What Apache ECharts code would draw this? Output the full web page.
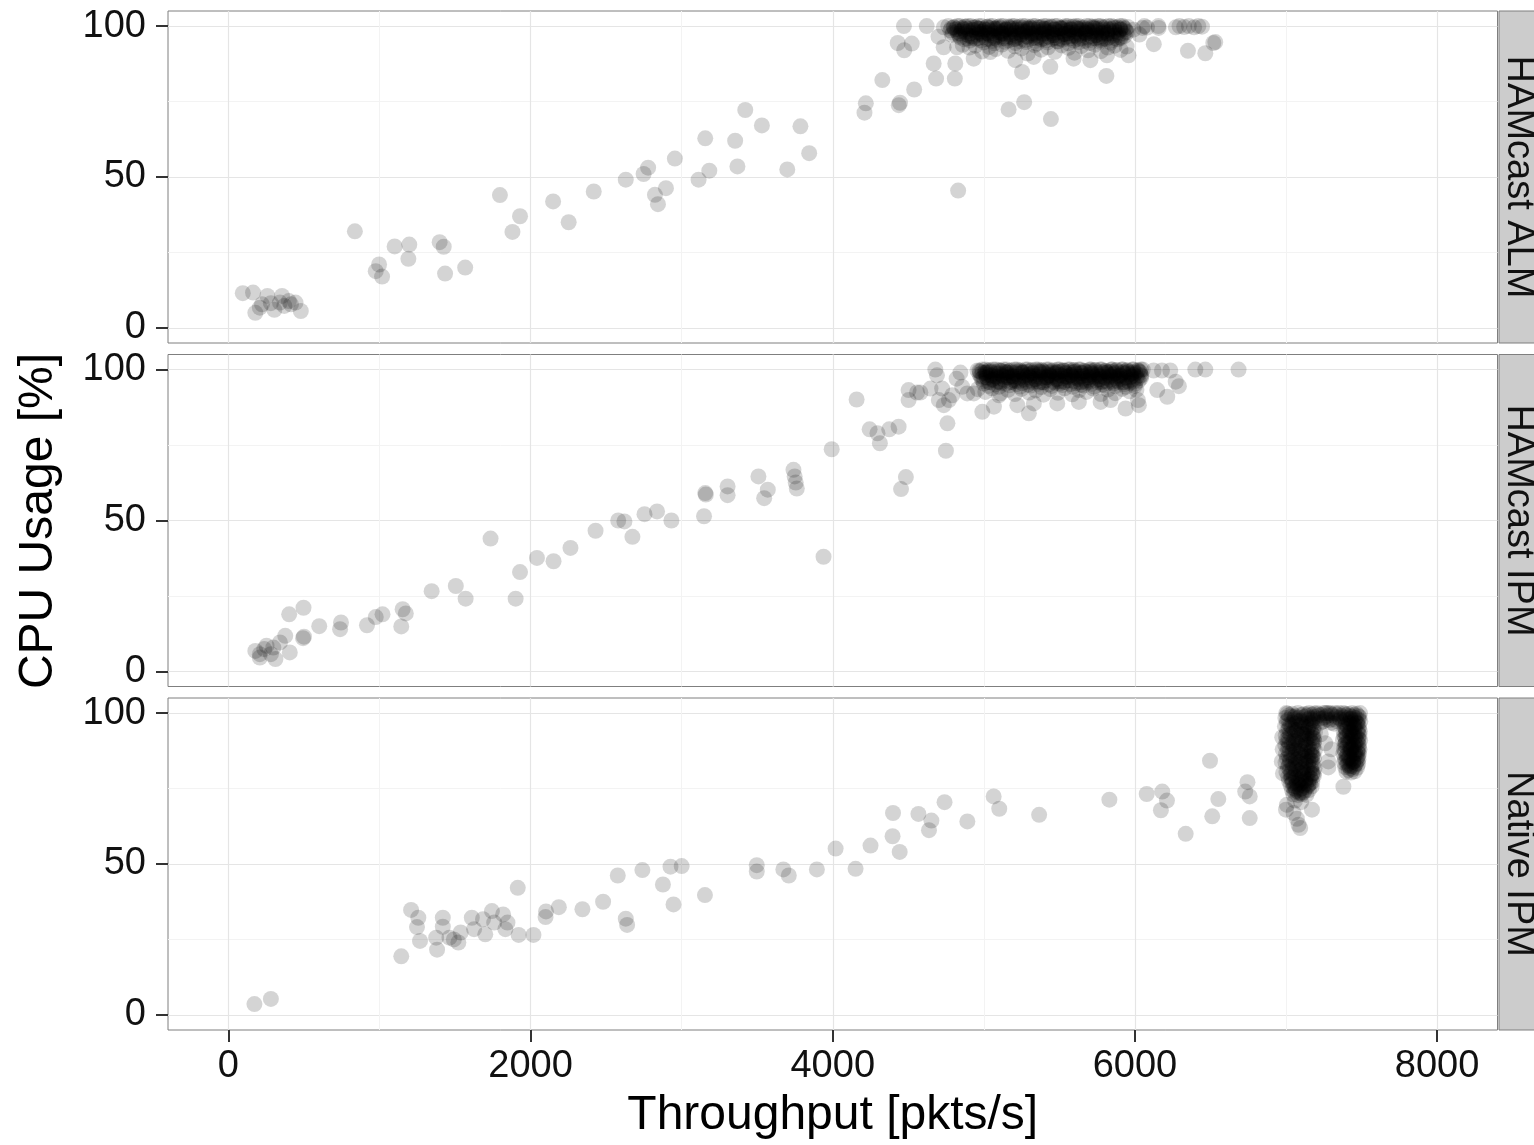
<!DOCTYPE html>
<html><head><meta charset="utf-8">
<script src="https://cdn.jsdelivr.net/npm/echarts@6/dist/echarts.min.js"></script>
<style>html,body{margin:0;padding:0;background:#fff}#c{width:1534px;height:1145px}</style>
</head><body><div id="c"></div>
<script>
const facets = ['HAMcast ALM', 'HAMcast IPM', 'Native IPM'];
const xTicks = [0, 2000, 4000, 6000, 8000];
const xMinor = [1000, 3000, 5000, 7000];
const yTicks = [0, 50, 100];
const yMinor = [25, 75];
const xTitle = 'Throughput [pkts/s]';
const yTitle = 'CPU Usage [%]';

const almSparse = [
[95,11.5],[163,11.7],[178,5.0],[208,6.7],[222,7.8],[258,10.6],[281,8.2],[304,6.0],[341,8.4],[355,10.6],[370,7.3],[400,8.9],[414,7.8],[444,8.4],[479,5.6],
[837,32.0],[975,18.8],[997,21.0],[1017,17.0],[1100,27.0],[1191,22.9],[1197,27.6],[1398,28.4],[1425,26.9],[1434,18.0],[1567,20.0],[1797,44.0],[1880,31.8],[1930,37.0],[2149,41.9],[2252,35.0],[2418,45.2],[2630,49.1],[2748,51.0],[2778,53.1],[2823,44.1],[2843,41.0],[2896,46.3],[2955,56.1],[3112,49.1],[3156,62.8],[3183,52.1],[3354,62.0],[3369,53.5],[3421,72.2],[3531,67.1],[3699,52.5],[3786,66.8],[3844,57.9],
[4210,71.3],[4219,74.4],[4328,82.1],[4437,73.8],[4445,74.6],[4539,79.0],[4430,94.4],[4473,92.0],[4523,94.2],[4471,100],[4622,100],[4668,87.6],[4684,82.6],[4808,82.6],[4811,87.6],[4734,93.0],[4823,93.0],[4830,45.5],[4700,96.5],[4735,99.6],
[5164,72.4],[5267,74.8],[5444,69.2],
[4933,89.2],[5043,91.4],[5209,88.7],[5253,84.8],[5330,89.8],[5440,86.5],[5594,89.2],[5705,88.7],[5811,83.5],[5815,90.3],[5958,90.3],
[5990,98.8],[6030,97.2],[6050,99.4],[6062,100],[6080,99.5],[6125,94.0],[6155,100],[6157,99.4],[6271,99.6],[6295,100],[6326,99.7],[6357,100],[6392,99.6],[6420,100],[6444,99.8],[6351,91.8],[6466,91.0],[6519,94.4],[6532,94.7]
];
const almDense = [
[4765,100],[4802,99.6],[4841,100],[4873,99.8],[4915,100],[4948,99.5],[4986,100],[5021,99.7],[5058,100],[5097,99.8],[5128,100],[5166,99.6],[5203,100],[5237,99.9],[5275,100],[5309,99.5],[5342,100],[5381,99.7],[5415,100],[5448,99.8],[5487,100],[5522,99.6],[5556,100],[5594,99.9],[5628,100],[5661,99.5],[5699,100],[5737,99.7],[5772,100],[5806,99.8],[5845,100],[5882,99.6],[5918,100],[5952,99.7],
[4778,98.6],[4826,98.2],[4861,98.9],[4897,98.4],[4934,98.7],[4972,98.1],[5008,98.8],[5043,98.3],[5079,98.6],[5114,98.0],[5152,98.9],[5188,98.4],[5221,98.7],[5259,98.2],[5293,98.5],[5330,98.9],[5366,98.1],[5401,98.6],[5436,98.3],[5472,98.8],[5508,98.2],[5543,98.6],[5579,98.9],[5614,98.1],[5650,98.5],[5686,98.8],[5721,98.3],[5757,98.6],[5793,98.0],[5829,98.7],[5866,98.4],[5903,98.8],[5941,98.3],
[4790,97.1],[4838,96.8],[4882,97.3],[4917,96.6],[4955,97.2],[4993,96.9],[5031,97.4],[5066,96.7],[5104,97.0],[5139,96.5],[5176,97.3],[5212,96.8],[5248,97.1],[5284,96.6],[5319,97.4],[5355,96.9],[5391,97.2],[5426,96.5],[5462,97.0],[5497,96.8],[5533,97.3],[5569,96.6],[5604,97.1],[5640,96.9],[5676,97.4],[5711,96.7],[5747,97.0],[5784,96.6],[5819,97.2],[5857,96.8],[5894,97.1],[5931,96.7],
[4870,95.6],[4908,95.2],[4946,95.8],[4982,95.3],[5018,95.7],[5055,95.1],[5091,95.5],[5127,95.9],[5163,95.2],[5199,95.6],[5236,95.0],[5271,95.4],[5307,95.8],[5344,95.1],[5379,95.6],[5414,95.3],[5451,95.7],[5487,95.0],[5522,95.5],[5558,95.8],[5595,95.2],[5630,95.6],[5667,95.1],[5703,95.4],[5739,95.9],[5774,95.3],[5811,95.7],[5848,95.2],[5886,95.6],
[4960,99.1],[5010,97.7],[5070,99.2],[5120,97.6],[5180,99.0],[5230,97.9],[5290,99.3],[5340,97.5],[5400,99.1],[5450,97.8],[5510,99.2],[5560,97.6],[5620,99.0],[5670,97.9],[5730,99.3],[5780,97.7],
[4860,93.8],[4905,92.9],[4945,93.5],[4990,91.6],[5035,93.1],[5080,92.4],[5120,93.9],[5160,91.8],[5205,93.3],[5250,92.6],[5290,90.9],[5335,93.7],[5380,92.2],[5425,93.0],[5470,91.5],[5515,93.6],[5560,92.8],[5600,91.2],[5645,93.4],[5690,92.0],[5735,93.8],[5775,91.7],[5820,92.9],[5865,93.5],[5905,92.1],[5945,93.2]
];
const almDense2 = [
[4785,99.3],[4822,99.0],[4856,99.4],[4893,99.1],[4930,99.5],[4967,99.2],[5003,99.0],[5039,99.4],[5075,99.1],[5111,99.3],[5147,99.0],[5183,99.5],[5219,99.2],[5255,99.4],[5291,99.0],[5327,99.3],[5363,99.5],[5399,99.1],[5433,99.4],[5469,99.0],[5505,99.3],[5541,99.5],[5577,99.1],[5612,99.4],[5647,99.0],[5683,99.2],[5719,99.5],[5755,99.1],[5790,99.3],[5826,99.0],[5863,99.4],[5900,99.2],[5936,99.0],
[4796,97.8],[4845,97.5],[4880,98.0],[4913,97.6],[4951,97.9],[4987,97.4],[5024,97.8],[5061,97.6],[5097,98.0],[5133,97.5],[5170,97.9],[5206,97.7],[5242,97.4],[5278,97.9],[5314,97.6],[5350,98.0],[5386,97.5],[5421,97.8],[5457,97.6],[5493,98.0],[5529,97.4],[5565,97.8],[5601,97.7],[5637,97.5],[5673,97.9],[5709,97.6],[5745,98.0],[5781,97.4],[5817,97.8],[5853,97.6],[5889,97.9],[5925,97.5],
[4845,96.2],[4890,95.9],[4928,96.4],[4965,96.0],[5001,96.3],[5037,95.8],[5073,96.2],[5109,96.4],[5145,95.9],[5181,96.3],[5217,96.1],[5253,95.8],[5289,96.4],[5325,96.0],[5361,96.2],[5397,95.9],[5433,96.4],[5469,96.1],[5505,95.8],[5541,96.3],[5577,96.0],[5613,96.4],[5649,95.9],[5685,96.2],[5721,96.0],[5757,96.3],[5793,95.8],[5829,96.2],[5866,96.0],[5903,96.3],
[4825,100],[4895,100],[4965,100],[5040,100],[5110,100],[5185,100],[5255,100],[5325,100],[5395,100],[5470,100],[5540,100],[5610,100],[5680,100],[5755,100],[5825,100],[5900,100],
[5000,94.6],[5070,94.3],[5140,94.8],[5210,94.4],[5280,94.7],[5350,94.2],[5420,94.6],[5490,94.9],[5560,94.3],[5630,94.7],[5700,94.4],[5770,94.8],[5840,94.5],
[4810,98.9],[4868,99.0],[4925,98.8],[4978,99.0],[5033,98.9],[5088,99.1],[5142,98.8],[5196,99.0],[5250,98.9],[5304,99.1],[5358,98.8],[5412,99.0],[5466,98.9],[5520,99.1],[5574,98.8],[5628,99.0],[5682,98.9],[5736,99.1],[5790,98.8],[5846,99.0],[5905,98.9]
];
const almDense3 = [
[4800,99.6],[4852,98.3],[4897,96.9],[4944,99.7],[4993,98.2],[5037,97.0],[5086,99.5],[5131,98.4],[5179,96.8],[5224,99.6],[5273,98.3],[5317,96.9],[5366,99.7],[5411,98.2],[5459,97.0],[5504,99.5],[5553,98.4],[5597,96.8],[5646,99.6],[5691,98.3],[5739,96.9],[5784,99.7],[5833,98.2],[5877,97.0],[5926,99.5],
[4831,97.5],[4879,99.9],[4926,95.9],[4974,97.6],[5021,99.8],[5067,96.0],[5116,97.4],[5161,99.9],[5207,95.8],[5256,97.5],[5301,99.8],[5347,96.0],[5396,97.6],[5441,99.9],[5487,95.9],[5536,97.4],[5581,99.8],[5627,96.0],[5676,97.5],[5721,99.9],[5767,95.8],[5816,97.6],[5861,99.8],[5907,96.0],[5949,98.0]
];

const ipmSparse = [
[178,6.8],[208,4.6],[208,5.7],[237,7.4],[252,8.5],[281,5.7],[297,7.9],[311,4.1],[341,9.6],[376,11.8],[406,6.3],[402,18.9],[497,21.1],[494,11.0],[500,11.5],[601,15.0],[739,14.0],[745,16.2],[917,15.3],[975,18.0],[1020,18.9],[1144,14.9],[1153,20.6],[1174,19.2],[1345,26.6],[1505,28.3],[1570,24.1],[1735,44.0],[1901,24.1],[1930,32.9],[2042,37.6],[2152,36.5],[2264,40.9],[2430,46.6],[2580,50.0],[2621,49.7],[2674,44.6],[2754,52.1],[2837,53.0],[2932,50.0],[3148,51.4],[3156,59.1],[3160,58.6],[3304,61.3],[3304,58.4],[3508,64.6],[3546,57.4],[3570,60.2],[3740,66.8],[3748,64.6],[3755,62.6],[3762,60.6],[3993,73.6],[3939,38.0],
[4158,90.1],[4244,80.2],[4296,78.9],[4312,75.6],[4374,80.2],[4436,81.1],[4452,60.4],[4484,64.4],[4749,73.1],[4759,82.2],
[4679,100],[4690,98.1],[4502,93.2],[4502,89.9],[4558,92.4],[4580,92.4],[4647,93.7],[4724,93.7],[4702,89.9],[4735,88.2],[4791,91.5],[4769,89.9],[4857,94.3],[4890,92.1],[4934,92.1],[4820,97.0],[4845,99.0],
[4990,86.0],[5067,87.7],[5100,91.5],[5222,88.2],[5298,85.5],[5331,88.8],[5486,88.8],[5629,89.3],[5773,89.3],[5839,89.9],[5938,87.1],[6026,88.2],[6020,89.9],
[6148,93.2],[6214,91.0],[6291,94.5],[6270,96.0],[6124,99.7],[6179,99.7],[6234,99.7],[6400,100],[6466,100],[6686,100]
];
const ipmDense = [
[4958,99.7],[4990,100],[5027,99.6],[5061,100],[5098,99.8],[5132,100],[5169,99.5],[5204,100],[5238,99.8],[5276,100],[5311,99.6],[5344,100],[5382,99.9],[5416,100],[5450,99.5],[5489,100],[5523,99.7],[5557,100],[5595,99.8],[5629,100],[5664,99.6],[5700,100],[5735,99.9],[5771,100],[5806,99.5],[5843,100],[5878,99.7],[5914,100],[5949,99.8],[5985,100],[6020,99.6],[6052,100],
[4972,98.4],[5009,98.9],[5044,98.1],[5080,98.6],[5115,98.3],[5151,98.8],[5186,98.0],[5222,98.5],[5257,98.9],[5293,98.2],[5328,98.7],[5364,98.4],[5400,98.8],[5434,98.1],[5470,98.6],[5505,98.3],[5541,98.9],[5577,98.2],[5612,98.5],[5648,98.8],[5683,98.1],[5719,98.6],[5754,98.3],[5790,98.9],[5825,98.4],[5861,98.7],[5897,98.1],[5932,98.6],[5968,98.4],[6004,98.8],[6038,98.2],
[4985,96.9],[5021,97.3],[5057,96.6],[5092,97.1],[5128,96.8],[5163,97.4],[5199,96.5],[5234,97.0],[5270,96.7],[5305,97.3],[5341,96.9],[5377,97.2],[5412,96.6],[5448,97.4],[5483,96.8],[5519,97.1],[5554,96.5],[5590,97.3],[5626,96.9],[5661,97.0],[5697,96.6],[5732,97.4],[5768,96.8],[5803,97.2],[5839,96.7],[5875,97.1],[5910,96.9],[5946,97.3],[5982,96.6],[6016,97.0],
[5000,95.4],[5040,95.8],[5075,95.1],[5111,95.6],[5146,95.3],[5182,95.9],[5217,95.2],[5253,95.5],[5289,95.0],[5324,95.7],[5360,95.3],[5395,95.8],[5431,95.1],[5466,95.6],[5502,95.4],[5537,95.9],[5573,95.2],[5609,95.5],[5644,95.0],[5680,95.7],[5715,95.3],[5751,95.8],[5786,95.1],[5822,95.6],[5858,95.4],[5893,95.9],[5929,95.2],[5965,95.6],[6000,95.3],
[5020,99.1],[5080,97.7],[5140,99.2],[5190,97.6],[5250,99.0],[5310,97.9],[5370,99.3],[5420,97.5],[5480,99.1],[5540,97.8],[5600,99.2],[5650,97.6],[5710,99.0],[5770,97.9],[5830,99.3],[5890,97.7],[5950,99.1],
[4960,93.5],[5010,92.6],[5055,93.8],[5110,92.1],[5160,93.3],[5205,91.9],[5250,93.6],[5300,92.4],[5345,93.1],[5395,91.7],[5440,93.5],[5490,92.3],[5535,93.8],[5585,91.8],[5630,93.2],[5680,92.6],[5725,93.7],[5775,91.9],[5820,93.4],[5870,92.2],[5915,93.6],[5965,92.8],[6010,93.3]
];
const ipmDense2 = [
[4975,99.3],[5010,99.0],[5045,99.4],[5080,99.1],[5115,99.5],[5150,99.2],[5185,99.0],[5220,99.4],[5255,99.1],[5290,99.3],[5325,99.0],[5360,99.5],[5395,99.2],[5430,99.4],[5465,99.0],[5500,99.3],[5535,99.5],[5570,99.1],[5605,99.4],[5640,99.0],[5675,99.2],[5710,99.5],[5745,99.1],[5780,99.3],[5815,99.0],[5850,99.4],[5885,99.2],[5920,99.0],[5955,99.3],[5990,99.1],[6030,99.4],
[4980,97.8],[5018,97.5],[5053,98.0],[5088,97.6],[5124,97.9],[5159,97.4],[5195,97.8],[5230,97.6],[5266,98.0],[5301,97.5],[5337,97.9],[5372,97.7],[5408,97.4],[5443,97.9],[5479,97.6],[5514,98.0],[5550,97.5],[5585,97.8],[5621,97.6],[5656,98.0],[5692,97.4],[5727,97.8],[5763,97.7],[5798,97.5],[5834,97.9],[5869,97.6],[5905,98.0],[5940,97.4],[5976,97.8],[6011,97.6],[6042,97.9],
[4995,96.2],[5032,95.9],[5068,96.4],[5103,96.0],[5139,96.3],[5174,95.8],[5210,96.2],[5245,96.4],[5281,95.9],[5316,96.3],[5352,96.1],[5387,95.8],[5423,96.4],[5458,96.0],[5494,96.2],[5529,95.9],[5565,96.4],[5600,96.1],[5636,95.8],[5671,96.3],[5707,96.0],[5742,96.4],[5778,95.9],[5813,96.2],[5849,96.0],[5884,96.3],[5920,95.8],[5955,96.2],[5990,96.0],[6025,96.3],
[5010,100],[5080,100],[5150,100],[5220,100],[5290,100],[5360,100],[5430,100],[5500,100],[5570,100],[5640,100],[5710,100],[5780,100],[5850,100],[5920,100],[5990,100],[6040,100],
[5030,94.6],[5100,94.3],[5170,94.8],[5240,94.4],[5310,94.7],[5380,94.2],[5450,94.6],[5520,94.9],[5590,94.3],[5660,94.7],[5730,94.4],[5800,94.8],[5870,94.5],[5940,94.3],[6000,94.6],
[4990,98.9],[5045,99.0],[5100,98.8],[5155,99.0],[5210,98.9],[5265,99.1],[5320,98.8],[5375,99.0],[5430,98.9],[5485,99.1],[5540,98.8],[5595,99.0],[5650,98.9],[5705,99.1],[5760,98.8],[5815,99.0],[5870,98.9],[5925,99.1],[5980,98.8],[6035,99.0]
];
const ipmDense3 = [
[4970,99.6],[5016,98.3],[5061,96.9],[5109,99.7],[5154,98.2],[5201,97.0],[5247,99.5],[5296,98.4],[5339,96.8],[5389,99.6],[5434,98.3],[5481,96.9],[5527,99.7],[5576,98.2],[5619,97.0],[5669,99.5],[5714,98.4],[5761,96.8],[5807,99.6],[5856,98.3],[5899,96.9],[5949,99.7],[5994,98.2],[6040,97.2],
[4996,97.5],[5039,99.9],[5089,95.9],[5134,97.6],[5181,99.8],[5227,96.0],[5276,97.4],[5319,99.9],[5369,95.8],[5414,97.5],[5461,99.8],[5507,96.0],[5556,97.6],[5599,99.9],[5649,95.9],[5694,97.4],[5741,99.8],[5787,96.0],[5836,97.5],[5879,99.9],[5929,95.8],[5974,97.6],[6021,99.8]
];

const nativeSparse = [
[172,3.6],[281,5.3],[1144,19.4],[1209,34.8],[1257,32.2],[1248,29.1],[1268,24.5],[1381,21.6],[1375,25.6],[1419,32.2],[1419,29.2],[1463,25.6],[1492,25.0],[1522,24.0],[1537,27.3],[1611,32.2],[1626,28.4],[1685,31.7],[1700,26.7],[1744,34.4],[1759,30.6],[1818,33.3],[1833,28.4],[1847,30.6],[1915,42.1],[1921,26.5],[2019,26.5],[2099,32.4],[2102,34.3],[2187,35.7],[2343,35.0],[2480,37.5],[2577,46.2],[2630,31.9],[2639,29.8],[2740,48.0],[2876,43.2],[2926,49.1],[3000,49.3],[2946,36.6],[3154,39.7],[3497,49.6],[3497,47.5],[3673,48.2],[3709,46.2],[3895,48.2],[4019,55.1],[4151,48.4],[4250,56.1],[4396,59.2],[4443,54.0],[4399,66.9],[4567,66.6],[4653,64.4],[4637,61.2],[4740,70.5],[4891,64.1],[5065,72.4],[5102,68.3],[5366,66.3],[5831,71.3],[6078,73.2],[6181,74.0],[6212,71.0],[6172,67.8],[6336,60.0],[6497,84.2],[6512,65.8],[6552,71.5],[6745,77.1],[6730,74.0],[6760,72.4],[6760,65.2],
[7006,69.6],[7050,66.9],[7083,63.0],[7094,61.9],[7072,65.0],[7172,68.0],[7000,68.0],[7100,70.5],[7060,71.0],
[6975,92.0],[6978,88.0],[6972,84.0],[6980,80.0],
[7230,93.0],[7260,90.0],[7280,84.0],[7300,88.0],[7380,75.6],[7280,82.0]
];
const nativeDense = [
[7002,100],[7041,99.8],[7079,100],[7118,99.7],[7153,100],[7188,99.9],
[6996,98.4],[7036,98.9],[7083,98.5],[7121,98.7],[7158,98.3],[7182,98.8],
[7005,97.2],[7044,96.9],[7076,97.3],[7114,97.0],[7161,96.8],[7190,97.4],
[6993,95.6],[7038,95.3],[7085,95.8],[7125,95.4],[7150,95.7],[7184,95.2],
[7008,94.1],[7047,93.8],[7072,94.3],[7117,93.9],[7163,94.2],[7192,93.7],
[6998,92.5],[7033,92.9],[7081,92.4],[7123,92.8],[7156,92.3],[7180,92.7],
[7004,91.2],[7049,90.8],[7077,91.1],[7112,90.9],[7160,91.3],[7187,90.7],
[6995,89.4],[7039,89.7],[7086,89.3],[7127,89.6],[7152,89.5],[7183,89.8],
[7010,88.1],[7045,87.8],[7074,88.2],[7119,87.9],[7165,88.0],[7191,87.7],
[7000,86.5],[7035,86.2],[7082,86.6],[7124,86.3],[7157,86.7],[7178,86.1],
[7006,84.9],[7050,85.2],[7078,84.8],[7115,85.1],[7162,84.7],[7186,85.3],
[6997,83.6],[7042,83.3],[7087,83.7],[7128,83.4],[7150,83.8],[7181,83.2],
[7012,82.1],[7046,81.8],[7073,82.2],[7116,81.9],[7166,82.0],[7189,81.7],
[7003,80.5],[7037,80.2],[7084,80.6],[7122,80.3],[7155,80.7],[7176,80.1],
[7015,78.9],[7052,79.2],[7079,78.8],[7113,79.1],[7160,78.7],[7185,79.3],
[7020,77.6],[7044,77.3],[7088,77.7],[7126,77.4],[7151,77.8],[7174,77.2],
[7030,76.1],[7058,75.8],[7090,76.2],[7118,75.9],[7148,76.0],[7170,75.7],
[7040,74.6],[7068,74.3],[7095,74.7],[7124,74.4],[7152,74.5],
[7048,73.1],[7080,72.8],[7105,73.2],[7135,72.9],
[7215,99.6],[7240,98.2],[7262,100],[7285,97.6],[7305,99.3],[7330,98.7],[7350,100],[7225,96.8],[7272,99.1],[7318,96.5],[7360,97.9],[7250,100],
[7380,100],[7412,99.7],[7438,100],[7466,99.8],[7490,100],
[7386,98.6],[7405,98.3],[7444,98.8],[7461,98.4],[7485,98.7],
[7378,97.1],[7416,96.8],[7436,97.2],[7470,96.9],[7492,97.3],
[7389,95.4],[7408,95.7],[7447,95.3],[7458,95.6],[7483,95.5],
[7381,94.1],[7419,93.8],[7433,94.2],[7472,93.9],[7489,94.0],
[7385,92.6],[7403,92.3],[7442,92.7],[7463,92.4],[7486,92.8],
[7377,91.1],[7414,90.8],[7439,91.2],[7468,90.9],[7491,91.0],
[7388,89.4],[7410,89.7],[7445,89.3],[7460,89.6],[7482,89.5],
[7383,88.1],[7421,87.8],[7431,88.2],[7474,87.9],[7487,88.0],
[7380,86.6],[7406,86.3],[7448,86.7],[7462,86.4],[7484,86.5],
[7390,84.9],[7417,85.2],[7437,84.8],[7469,85.1],[7480,84.7],
[7384,83.6],[7412,83.3],[7443,83.7],[7465,83.4],[7478,83.2],
[7392,82.1],[7425,81.8],[7450,82.2],[7470,81.9],
[7400,80.6],[7430,80.3],[7455,80.7]
];
const nativeDense2 = [
[7020,99.3],[7060,99.0],[7100,99.4],[7138,99.1],[7172,99.5],
[7015,97.8],[7058,98.0],[7097,97.6],[7141,97.9],[7176,97.7],
[7022,96.2],[7063,96.5],[7102,96.1],[7135,96.4],[7170,96.3],
[7018,94.9],[7056,94.6],[7099,95.0],[7143,94.7],[7178,94.8],
[7024,93.2],[7061,93.5],[7104,93.1],[7137,93.4],[7171,93.3],
[7016,91.9],[7059,91.6],[7098,92.0],[7142,91.7],[7177,91.8],
[7021,90.1],[7064,90.4],[7101,90.0],[7136,90.3],[7173,90.2],
[7019,88.8],[7057,88.5],[7096,88.9],[7144,88.6],[7179,88.7],
[7023,87.1],[7062,87.4],[7103,87.0],[7139,87.3],[7169,87.2],
[7017,85.8],[7060,85.5],[7100,85.9],[7140,85.6],[7175,85.7],
[7025,84.1],[7065,84.4],[7098,84.0],[7134,84.3],[7172,84.2],
[7020,82.8],[7058,82.5],[7102,82.9],[7145,82.6],[7177,82.7],
[7026,81.1],[7063,81.4],[7097,81.0],[7138,81.3],[7168,81.2],
[7030,79.8],[7061,79.5],[7101,79.9],[7141,79.6],[7173,79.7],
[7036,78.1],[7066,78.4],[7099,78.0],[7135,78.3],[7165,78.2],
[7042,76.8],[7070,76.5],[7104,76.9],[7133,76.6],[7160,76.7],
[7050,75.2],[7078,75.5],[7108,75.1],[7138,75.4],
[7058,73.9],[7088,73.6],[7118,73.8],
[7395,99.3],[7425,99.0],[7452,99.4],[7478,99.1],
[7392,97.8],[7428,98.0],[7455,97.6],[7480,97.9],
[7398,96.2],[7422,96.5],[7450,96.1],[7476,96.4],
[7394,94.9],[7427,94.6],[7454,95.0],[7481,94.7],
[7397,93.2],[7424,93.5],[7451,93.1],[7477,93.4],
[7393,91.9],[7429,91.6],[7456,92.0],[7479,91.7],
[7396,90.1],[7423,90.4],[7453,90.0],[7475,90.3],
[7399,88.8],[7426,88.5],[7449,88.9],[7482,88.6],
[7391,87.1],[7430,87.4],[7457,87.0],[7474,87.3],
[7400,85.8],[7420,85.5],[7452,85.9],[7476,85.6],
[7398,84.1],[7428,84.4],[7448,84.0],[7472,84.3],
[7405,82.8],[7433,82.5],[7458,82.9],
[7415,81.1],[7440,81.4],
[7205,100],[7232,99.4],[7258,98.6],[7290,100],[7312,98.0],[7338,99.6],[7365,99.0],[7245,97.2],[7298,96.8],[7340,97.3],[7220,98.2],[7275,100],[7325,100]
];
const nativeDense3 = [
[7010,99.8],[7055,98.6],[7095,97.3],[7140,99.6],[7180,98.2],[7030,95.9],[7070,94.4],[7110,93.0],[7150,95.3],[7185,91.6],[7012,90.6],[7052,89.2],[7092,87.5],[7132,91.4],[7170,86.0],[7028,84.5],[7068,83.0],[7108,81.5],[7148,85.3],[7183,80.0],[7035,78.6],[7075,77.0],[7115,79.9],[7150,76.3],[7062,74.9],[7100,73.6],[7128,78.0],
[7390,99.8],[7430,98.1],[7470,96.6],[7400,94.5],[7440,92.9],[7480,91.3],[7395,89.9],[7435,88.3],[7475,86.8],[7405,85.2],[7445,83.9],[7420,82.4],
[7210,99.0],[7268,97.9],[7300,99.8],[7355,98.4]
];

const panelData = [
  almSparse.concat(almDense, almDense2, almDense3),
  ipmSparse.concat(ipmDense, ipmDense2, ipmDense3),
  nativeSparse.concat(nativeDense, nativeDense2, nativeDense3)
];

const FONT = '"Liberation Sans", Arial, Helvetica, sans-serif';
const gridTop = [11, 354.5, 698];
const gridH = 332;
const gridLeft = 168;
const gridW = 1329.5;

const chart = echarts.init(document.getElementById('c'), null, {renderer: 'canvas'});
const grids = [], xAxes = [], yAxes = [], series = [], graphics = [];
const plain = v => String(v);
for (let i = 0; i < 3; i++) {
  grids.push({left: gridLeft, top: gridTop[i], width: gridW, height: gridH, show: true,
    backgroundColor: '#ffffff', borderColor: '#7f7f7f', borderWidth: 1, outerBoundsMode: 'none', containLabel: false});
  const last = i === 2;
  xAxes.push({gridIndex: i, type: 'value', min: -400, max: 8400, position: 'bottom',
    axisLine: {show: false, onZero: false},
    axisTick: {show: last, customValues: xTicks, length: 12, lineStyle: {color: '#333333', width: 2}},
    axisLabel: {show: last, customValues: xTicks, formatter: plain, margin: 18, fontSize: 38, color: '#111111', fontFamily: FONT},
    splitLine: {show: true, lineStyle: {color: '#e5e5e5', width: 1.2}}});
  xAxes.push({gridIndex: i, type: 'value', min: -400, max: 8400, position: 'top',
    axisLine: {show: false, onZero: false},
    axisTick: {show: false, customValues: xMinor},
    axisLabel: {show: false, customValues: xMinor},
    splitLine: {show: true, lineStyle: {color: '#f3f3f3', width: 1}}});
  yAxes.push({gridIndex: i, type: 'value', min: -5, max: 105, position: 'left',
    axisLine: {show: false, onZero: false},
    axisTick: {show: true, customValues: yTicks, length: 12, lineStyle: {color: '#333333', width: 2}},
    axisLabel: {show: true, customValues: yTicks, formatter: plain, margin: 22, fontSize: 38, color: '#111111', fontFamily: FONT},
    splitLine: {show: true, lineStyle: {color: '#e5e5e5', width: 1.2}}});
  yAxes.push({gridIndex: i, type: 'value', min: -5, max: 105, position: 'right',
    axisLine: {show: false, onZero: false},
    axisTick: {show: false, customValues: yMinor},
    axisLabel: {show: false, customValues: yMinor},
    splitLine: {show: true, lineStyle: {color: '#f3f3f3', width: 1}}});
  series.push({type: 'scatter', xAxisIndex: i * 2, yAxisIndex: i * 2, data: panelData[i],
    symbol: 'circle', symbolSize: 16, itemStyle: {color: 'rgba(0,0,0,0.21)'},
    emphasis: {disabled: true}, silent: true, large: false, progressive: 0});
  graphics.push({type: 'rect', shape: {x: 1499, y: gridTop[i], width: 60, height: gridH},
    style: {fill: '#cccccc', stroke: '#7f7f7f', lineWidth: 1}, silent: true});
  graphics.push({type: 'text', x: 1518, y: gridTop[i] + gridH / 2, rotation: -Math.PI / 2,
    style: {text: facets[i], fontSize: 38, fontFamily: FONT, fill: '#111111', textAlign: 'center', textVerticalAlign: 'middle'}, silent: true});
}
graphics.push({type: 'text', x: gridLeft + gridW / 2, y: 1116,
  style: {text: xTitle, fontSize: 48, fontFamily: FONT, fill: '#000000', textAlign: 'center', textVerticalAlign: 'middle'}, silent: true});
graphics.push({type: 'text', x: 39, y: 521, rotation: Math.PI / 2,
  style: {text: yTitle, fontSize: 48, fontFamily: FONT, fill: '#000000', textAlign: 'center', textVerticalAlign: 'middle'}, silent: true});

chart.setOption({
  backgroundColor: '#ffffff',
  animation: false,
  grid: grids,
  xAxis: xAxes,
  yAxis: yAxes,
  series: series,
  graphic: {elements: graphics}
});
</script>
</body></html>
